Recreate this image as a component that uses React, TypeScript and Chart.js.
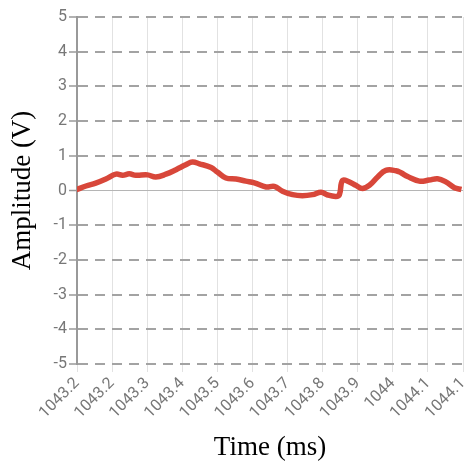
import React, { useEffect, useRef } from "react";
import { Chart, registerables } from "chart.js";

Chart.register(...registerables);

const times = [
  1043.150, 1043.175, 1043.200, 1043.226, 1043.252, 1043.269, 1043.286, 1043.303,
  1043.333, 1043.354, 1043.380, 1043.406, 1043.431, 1043.448, 1043.466, 1043.496,
  1043.512, 1043.534, 1043.560, 1043.585, 1043.607, 1043.637, 1043.658, 1043.679,
  1043.705, 1043.730, 1043.756, 1043.778, 1043.795, 1043.816, 1043.825, 1043.833,
  1043.850, 1043.867, 1043.884, 1043.902, 1043.923, 1043.944, 1043.970, 1043.983,
  1044.000, 1044.030, 1044.055, 1044.077, 1044.098, 1044.120, 1044.138,
];
const amplitude = [
  0.02, 0.13, 0.21, 0.33, 0.47, 0.44, 0.48, 0.44,
  0.45, 0.39, 0.47, 0.60, 0.74, 0.82, 0.77, 0.66,
  0.53, 0.36, 0.33, 0.27, 0.22, 0.10, 0.12, -0.02,
  -0.12, -0.15, -0.12, -0.05, -0.13, -0.17, -0.12, 0.29,
  0.25, 0.15, 0.06, 0.15, 0.39, 0.58, 0.57, 0.51,
  0.40, 0.27, 0.30, 0.34, 0.25, 0.08, 0.03,
];
const xTickValues = [
  1043.152, 1043.242, 1043.332, 1043.422, 1043.512, 1043.602, 1043.692, 1043.782,
  1043.872, 1043.962, 1044.052, 1044.142,
];
const yTickValues = [-5, -4, -3, -2, -1, 0, 1, 2, 3, 4, 5];

const W = 465;
const H = 464;
const AREA_LEFT = 77;
const AREA_BOTTOM = 364;
const PAD_LEFT = 3;

export default function App() {
  const ref = useRef<HTMLCanvasElement | null>(null);

  useEffect(() => {
    if (!ref.current) return;
    const chart = new Chart(ref.current, {
      type: "line",
      data: {
        datasets: [
          {
            data: times.map((t, i) => ({ x: t, y: amplitude[i] })),
            borderColor: "#d8473a",
            borderWidth: 5.5,
            pointRadius: 0,
            tension: 0.4,
            fill: false,
          },
        ],
      },
      options: {
        animation: false,
        responsive: false,
        layout: { padding: { left: PAD_LEFT, top: 17, right: 2, bottom: 0 } },
        plugins: { legend: { display: false }, tooltip: { enabled: false } },
        scales: {
          x: {
            type: "linear",
            min: xTickValues[0],
            max: xTickValues[xTickValues.length - 1],
            afterBuildTicks: (s: any) => {
              s.ticks = xTickValues.map((v) => ({ value: v }));
            },
            afterFit: (s: any) => {
              s.height = H - AREA_BOTTOM;
              s.paddingRight = 0;
              s.paddingLeft = 0;
            },
            ticks: {
              autoSkip: false,
              minRotation: 45,
              maxRotation: 45,
              color: "#777",
              font: { family: "Roboto", size: 16 },
              padding: 2,
              callback: (v: any) => String(Number(Number(v).toFixed(1))),
            },
            grid: {
              color: "#e2e2e2",
              lineWidth: 1,
              tickLength: 8,
              tickColor: "#e2e2e2",
            },
            border: { display: false },
            title: {
              display: true,
              text: "Time (ms)",
              color: "#000",
              font: { family: "Liberation Serif", size: 27 },
              padding: { top: 4, bottom: 0 },
            },
          },
          y: {
            type: "linear",
            min: -5,
            max: 5,
            afterBuildTicks: (s: any) => {
              s.ticks = yTickValues.map((v) => ({ value: v }));
            },
            afterFit: (s: any) => {
              s.width = AREA_LEFT - PAD_LEFT;
              s.paddingTop = 0;
              s.paddingBottom = 0;
            },
            ticks: {
              color: "#777",
              font: { family: "Roboto", size: 16 },
              padding: 2,
            },
            grid: {
              color: (c: any) => (c.tick && c.tick.value === 0 ? "#b5b5b5" : "#a3a3a3"),
              lineWidth: (c: any) => (c.tick && c.tick.value === 0 ? 1 : 2),
              tickLength: 8,
              tickColor: "#999",
              tickWidth: 1.5,
              tickBorderDash: [],
            },
            border: {
              display: true,
              color: "#999",
              width: 2,
              dash: (c: any) => (c.tick && c.tick.value !== 0 ? [10, 7] : []),
            },
            title: {
              display: true,
              text: "Amplitude (V)",
              color: "#000",
              font: { family: "Liberation Serif", size: 27 },
              padding: { top: 4, bottom: 4 },
            },
          },
        },
      },
    });
    return () => chart.destroy();
  }, []);

  return (
    <div style={{ position: "absolute", left: 0, top: 0, width: W, height: H }}>
      <canvas ref={ref} width={W} height={H} />
    </div>
  );
}
